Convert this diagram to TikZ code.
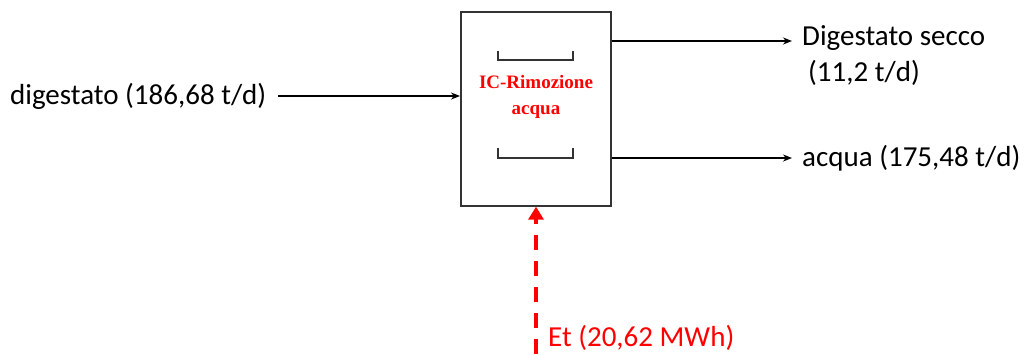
\documentclass[tikz,border=0pt]{standalone}
\usepackage{fontspec}
\setmainfont{Carlito}
\newfontfamily\timesbf{Liberation Serif}
\usetikzlibrary{arrows.meta}
\definecolor{myred}{RGB}{255,0,0}
\begin{document}
\begin{tikzpicture}[x=1pt,y=-1pt,
  flow/.style={draw=black,line width=1.6pt,-{Stealth[length=9pt,width=7pt]}},
  lbl/.style={font=\fontsize{29}{33}\selectfont,inner sep=0pt,anchor=west},
  procbox/.style={draw=black!80,line width=1.3pt,minimum width=150pt,minimum height=194pt,inner sep=0pt},
  brk/.style={draw=black!80,line width=1.3pt}]
\useasboundingbox (0,0) rectangle (1030,354);
\node[procbox] (box) at (536,109) {};
\node[font=\timesbf\bfseries\fontsize{19}{26}\selectfont,text=myred,align=center] (title) at (536,97) {IC-Rimozione\\acqua};
\draw[brk] (498,51) -- (498,60) -- (573,60) -- (573,51);
\draw[brk] (498,148) -- (498,158) -- (573,158) -- (573,148);
\node[lbl] (in) at (10,96) {digestato (186,68 t/d)};
\coordinate (inend) at (460,96);
\draw[flow] (in.east) ++(12,0) coordinate (instart) -- (inend);
\coordinate (o1s) at (612,41);
\coordinate (o2s) at (612,158);
\node[lbl] (o1) at (802,38) {Digestato secco};
\node[lbl] (o1b) at (808,73) {(11,2 t/d)};
\node[lbl] (o2) at (802,158) {acqua (175,48 t/d)};
\draw[flow] (o1s) -- (792,41) coordinate (o1e);
\draw[flow] (o2s) -- (792,158) coordinate (o2e);
\coordinate (es) at (536,354);
\draw[draw=myred,line width=4pt,dash pattern=on 15pt off 11pt,-{Triangle[length=13pt,width=15pt]}] (es) -- (box.south);
\node[lbl,text=myred] (et) at (548,338) {Et (20,62 MWh)};
\end{tikzpicture}
\end{document}
